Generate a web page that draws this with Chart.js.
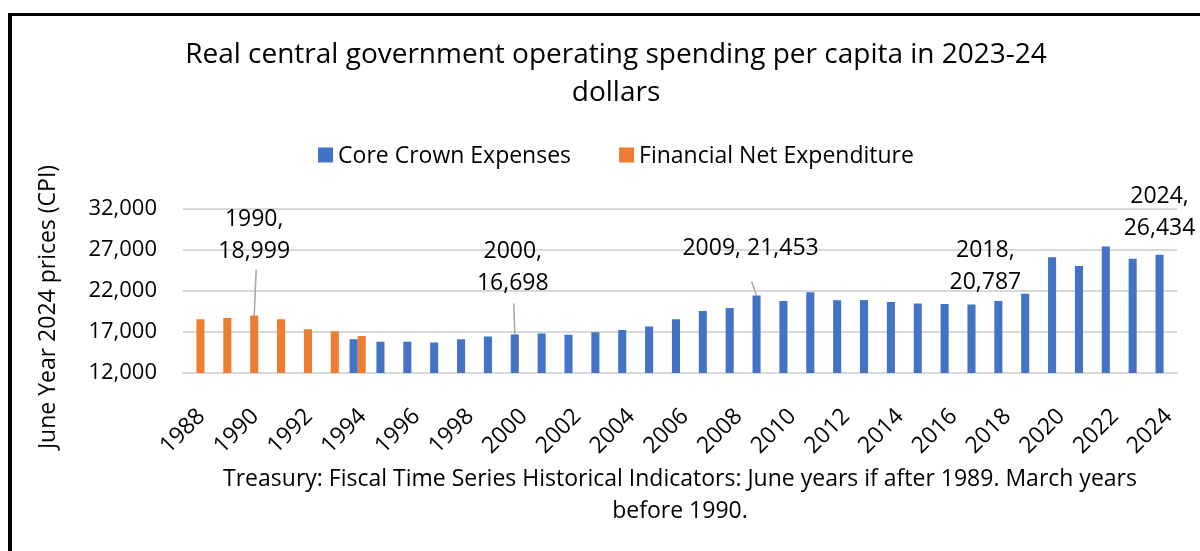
<!DOCTYPE html>
<html>
<head>
<meta charset="utf-8">
<title>Real central government operating spending per capita</title>
<script src="https://cdn.jsdelivr.net/npm/chart.js@4"></script>
<style>
  html, body { margin: 0; padding: 0; background: #fff; }
  #wrap { width: 1200px; height: 551px; position: relative; }
</style>
</head>
<body>
<div id="wrap"><canvas id="chartGasto" width="1200" height="551"></canvas></div>
<script>
// Años (junio desde 1990, marzo antes)
const years = [
  "1988","1989","1990","1991","1992","1993","1994","1995","1996","1997",
  "1998","1999","2000","2001","2002","2003","2004","2005","2006","2007",
  "2008","2009","2010","2011","2012","2013","2014","2015","2016","2017",
  "2018","2019","2020","2021","2022","2023","2024"
];

// Core Crown Expenses per capita (2023-24 $)
const coreCrown = [
  null, null, null, null, null, null, 16114, 15800, 15800, 15720,
  16114, 16455, 16698, 16820, 16650, 16980, 17230, 17680, 18540, 19550,
  19920, 21453, 20776, 21840, 20860, 20900, 20650, 20490, 20410, 20340,
  20787, 21670, 26125, 25060, 27420, 25920, 26434
];

// Financial Net Expenditure per capita (2023-24 $)
const financialNet = [
  18558, 18720, 18999, 18558, 17336, 17091, 16521, null, null, null,
  null, null, null, null, null, null, null, null, null, null,
  null, null, null, null, null, null, null, null, null, null,
  null, null, null, null, null, null, null
];

const seriesNames = ["Core Crown Expenses", "Financial Net Expenditure"];
const yTicks = [12000, 17000, 22000, 27000, 32000];

const titleLines = ["Real central government operating spending per capita in 2023-24", "dollars"];
const yTitle = "June Year 2024 prices (CPI)";
const sourceLines = [
  "Treasury: Fiscal Time Series Historical Indicators: June years if after 1989. March years",
  "before 1990."
];

// etiquetas de datos: serie, año, cómo se parte el texto, dónde va (relativo al tope de la barra)
const callouts = [
  { serie: 1, year: "1990", split: true,  dx: 0,   dy: -96, leader: [2, -46] },
  { serie: 0, year: "2000", split: true,  dx: -2,  dy: -83, leader: [-1, -31] },
  { serie: 0, year: "2009", split: false, dx: -6,  dy: -47, leader: [-5, -14] },
  { serie: 0, year: "2018", split: true,  dx: -13, dy: -50, leader: null },
  { serie: 0, year: "2024", split: true,  dx: 0,   dy: -58, leader: null }
];

const BLUE = "#4472C4";
const ORANGE = "#ED7D31";
const GRID = "#D9D9D9";
const FONT = "'Open Sans', 'Noto Sans', sans-serif";

const nfmt = (n) => Number(n).toLocaleString("en-US");

const decoPlugin = {
  id: "deco",
  afterDraw(chart){
    const ctx = chart.ctx;
    ctx.save();

    // marco negro (izquierda y arriba)
    ctx.fillStyle = "#000";
    ctx.fillRect(8, 13, 4, 551 - 13);
    ctx.fillRect(8, 13, 1200 - 8, 3);

    // leyenda
    ctx.font = `23px ${FONT}`;
    ctx.textBaseline = "middle";
    ctx.textAlign = "left";
    const box = 15, gapBox = 5, gapItem = 48;
    const items = chart.data.datasets.map(ds => ({
      text: ds.label, color: ds.backgroundColor,
      w: box + gapBox + ctx.measureText(ds.label).width
    }));
    const total = items.reduce((s, it) => s + it.w, 0) + gapItem * (items.length - 1);
    let x = 616 - total / 2;
    const ly = 155;
    items.forEach(it => {
      ctx.fillStyle = it.color;
      ctx.fillRect(x, ly - box / 2, box, box);
      ctx.fillStyle = "#000";
      ctx.fillText(it.text, x + box + gapBox, ly + 1);
      x += it.w + gapItem;
    });

    // título eje Y
    ctx.save();
    ctx.translate(48, 307);
    ctx.rotate(-Math.PI / 2);
    ctx.textAlign = "center";
    ctx.fillText(yTitle, 0, 0);
    ctx.restore();

    // etiquetas de datos con líneas guía
    const idxOf = (y) => chart.data.labels.indexOf(y);
    ctx.font = `23px ${FONT}`;
    ctx.textAlign = "center";
    callouts.forEach(c => {
      const i = idxOf(c.year);
      const bar = chart.getDatasetMeta(c.serie).data[i];
      const val = chart.data.datasets[c.serie].data[i];
      if (!bar || val == null) return;
      const lines = c.split ? [`${c.year},`, nfmt(val)] : [`${c.year}, ${nfmt(val)}`];
      ctx.fillStyle = "#000";
      lines.forEach((t, k) => ctx.fillText(t, bar.x + c.dx, bar.y + c.dy + k * 32));
      if (c.leader){
        ctx.strokeStyle = "#A6A6A6";
        ctx.lineWidth = 1.5;
        ctx.beginPath();
        ctx.moveTo(bar.x + c.leader[0], bar.y + c.leader[1]);
        ctx.lineTo(bar.x, bar.y);
        ctx.stroke();
      }
    });

    ctx.restore();
  }
};

new Chart(document.getElementById("chartGasto"), {
  type: "bar",
  data: {
    labels: years,
    datasets: [
      { label: seriesNames[0], data: coreCrown, backgroundColor: BLUE,
        categoryPercentage: 0.6, barPercentage: 1.0 },
      { label: seriesNames[1], data: financialNet, backgroundColor: ORANGE,
        categoryPercentage: 0.6, barPercentage: 1.0 }
    ]
  },
  options: {
    responsive: false,
    animation: false,
    layout: { padding: { left: 55, right: 23, top: 0, bottom: 0 } },
    plugins: {
      legend: { display: false },
      tooltip: { enabled: false },
      title: {
        display: true,
        text: titleLines,
        color: "#000",
        font: { family: FONT, size: 28, weight: "normal", lineHeight: 1.357 },
        padding: { top: 36, bottom: 97 }
      }
    },
    scales: {
      x: {
        grid: { display: false, drawTicks: false },
        border: { display: true, color: GRID, width: 2 },
        ticks: {
          autoSkip: false,
          minRotation: 45,
          maxRotation: 45,
          padding: 30,
          labelOffset: 5,
          color: "#000",
          font: { family: FONT, size: 23 },
          callback: function(v, i){ return i % 2 === 0 ? this.getLabelForValue(v) : ""; }
        },
        title: {
          display: true,
          text: sourceLines,
          color: "#000",
          font: { family: FONT, size: 23, lineHeight: 1.39 },
          padding: { top: 0, bottom: 24 }
        },
        afterFit(scale){
          scale.height = 178;
          // el área del gráfico la fijan los márgenes, no las etiquetas giradas
          scale.paddingLeft = 0;
          scale.paddingRight = 0;
        }
      },
      y: {
        min: yTicks[0],
        max: yTicks[yTicks.length - 1],
        beginAtZero: false,
        afterBuildTicks(scale){ scale.ticks = yTicks.map(v => ({ value: v })); },
        grid: { color: GRID, lineWidth: 2, drawTicks: false },
        border: { display: false },
        ticks: {
          padding: 26,
          color: "#000",
          font: { family: FONT, size: 22 },
          callback: (v) => nfmt(v)
        },
        afterFit(scale){ scale.width = 128; }
      }
    }
  },
  plugins: [decoPlugin]
});
</script>
</body>
</html>
